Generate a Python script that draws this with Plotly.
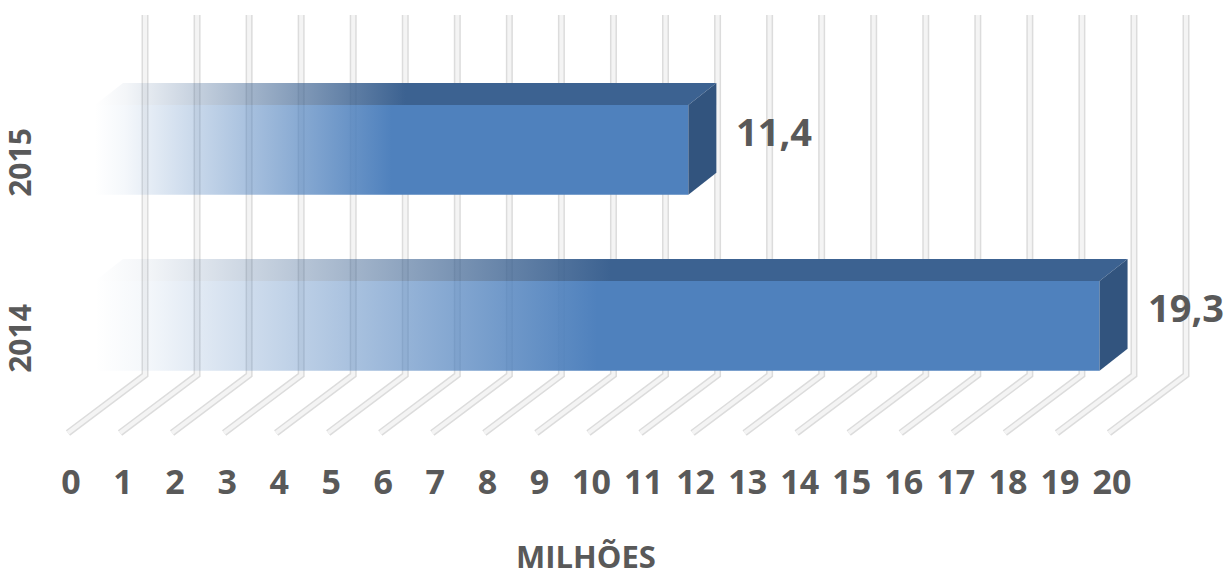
import plotly.graph_objects as go

# Data
categories = ["2014", "2015"]
values = [19.3, 11.4]
value_labels = ["19,3", "11,4"]
tick_values = list(range(0, 21))
tick_labels = [str(v) for v in tick_values]
axis_title = "MILHÕES"

# Pseudo-3D projection constants (axis units)
FRONT_X = 0.461      # bar front face starts here
DEPTH_X = 0.538      # horizontal shift of the bar depth
DEPTH_Y = 0.125      # vertical shift of the bar depth
LIFT = 0.098         # bar centre above category tick
HALF_H = 0.255       # half height of the bar front face
WALL_X = 1.422       # back wall shift of gridlines
FLOOR_FRONT_X = -0.058
WALL_TOP_Y = 1.864
FLOOR_BACK_Y = -0.182
FLOOR_FRONT_Y = -0.511

FRONT_RGB = (79, 129, 189)
TOP_RGB = (60, 98, 145)
SIDE_RGB = (50, 84, 126)
TEXT = "#595959"
FONT = "Open Sans"


def rgba(rgb, a):
    return f"rgba({rgb[0]},{rgb[1]},{rgb[2]},{a})"


def fade_scale(rgb):
    return [
        [0.0, rgba(rgb, 0.0)],
        [0.05, rgba(rgb, 0.06)],
        [0.5, rgba(rgb, 1.0)],
        [1.0, rgba(rgb, 1.0)],
    ]


fig = go.Figure()

# Gridlines: back wall verticals joined to the floor diagonals
gx, gy = [], []
for v in tick_values:
    gx += [v + WALL_X, v + WALL_X, v + FLOOR_FRONT_X, None]
    gy += [WALL_TOP_Y, FLOOR_BACK_Y, FLOOR_FRONT_Y, None]
for color, width in (("#dcdcdc", 7), ("#f4f4f4", 4)):
    fig.add_trace(go.Scatter(
        x=gx, y=gy, mode="lines",
        line=dict(color=color, width=width),
        hoverinfo="skip", showlegend=False,
    ))

# 3D bars built from front, top and side faces
for i, (cat, val) in enumerate(zip(categories, values)):
    yc = i + LIFT
    yb, yt = yc - HALF_H, yc + HALF_H
    x0, x1 = FRONT_X, FRONT_X + val

    # front face
    fig.add_trace(go.Scatter(
        x=[x0, x1, x1, x0, x0], y=[yb, yb, yt, yt, yb],
        mode="lines", fill="toself", line=dict(width=0),
        fillgradient=dict(type="horizontal", colorscale=fade_scale(FRONT_RGB)),
        hoverinfo="skip", showlegend=False,
    ))
    # top face
    fig.add_trace(go.Scatter(
        x=[x0, x1, x1 + DEPTH_X, x0 + DEPTH_X, x0],
        y=[yt, yt, yt + DEPTH_Y, yt + DEPTH_Y, yt],
        mode="lines", fill="toself", line=dict(width=0),
        fillgradient=dict(type="horizontal", colorscale=fade_scale(TOP_RGB)),
        hoverinfo="skip", showlegend=False,
    ))
    # side face
    fig.add_trace(go.Scatter(
        x=[x1, x1 + DEPTH_X, x1 + DEPTH_X, x1, x1],
        y=[yb, yb + DEPTH_Y, yt + DEPTH_Y, yt, yb],
        mode="lines", fill="toself", line=dict(width=0),
        fillcolor=rgba(SIDE_RGB, 1), hoverinfo="skip", showlegend=False,
    ))

# Value labels beside each bar
for i, (val, lab) in enumerate(zip(values, value_labels)):
    fig.add_annotation(
        x=FRONT_X + val + DEPTH_X, y=i + LIFT + 0.105,
        text=lab, showarrow=False, xanchor="left", yanchor="middle", xshift=18,
        font=dict(family=FONT, size=38, color=TEXT, weight="bold"),
    )

# Axis title
fig.add_annotation(
    x=0.458, y=-0.2614, xref="paper", yref="paper",
    text=axis_title, showarrow=False, xanchor="center", yanchor="bottom",
    font=dict(family=FONT, size=31, color=TEXT, weight="bold"),
)

fig.update_layout(
    width=1229, height=581,
    margin=dict(l=42, r=0, t=0, b=122),
    paper_bgcolor="white", plot_bgcolor="white",
    xaxis=dict(
        range=[-0.557, 22.248], tickvals=tick_values, ticktext=tick_labels,
        showgrid=False, zeroline=False, showline=False, ticks="",
        tickfont=dict(family=FONT, size=34, color=TEXT, weight="bold"),
        fixedrange=True,
    ),
    yaxis=dict(
        range=[-0.659, 1.949], tickvals=[0, 1], ticktext=categories,
        tickangle=-90, showgrid=False, zeroline=False, showline=False, ticks="",
        ticklabelstandoff=4,
        tickfont=dict(family=FONT, size=30, color=TEXT, weight="bold"),
        fixedrange=True,
    ),
)

fig.write_html("out.html")
